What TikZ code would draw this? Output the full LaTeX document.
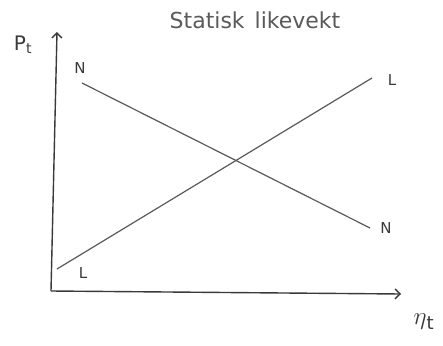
\documentclass[tikz,border=0pt]{standalone}
\usepackage{fontspec}
\setmainfont{DejaVu Sans}
\usetikzlibrary{arrows.meta}
\definecolor{ink}{HTML}{3A3A3A}
\definecolor{pen}{HTML}{5A5A5A}
\tikzset{
  axis/.style={draw=ink, line width=1.4pt, -{Straight Barb[length=5pt,width=10pt]}},
  curve/.style={draw=pen, line width=1.2pt},
  lab/.style={text=ink, font=\fontsize{15}{15}\selectfont, inner sep=0pt},
}
\begin{document}
\begin{tikzpicture}[x=1pt,y=-1pt]
\useasboundingbox[fill=white] (0,0) rectangle (443,345);
\coordinate (O) at (51,291);
\coordinate (ytop) at (57,32);
\coordinate (xend) at (401,294);
\draw[axis] (O) -- (ytop);
\draw[axis] (O) -- (xend);
\coordinate (N1) at (82,83);
\coordinate (N2) at (370,228);
\coordinate (L1) at (57,269);
\coordinate (L2) at (372,78);
\draw[curve] (N1) -- (N2);
\draw[curve] (L1) -- (L2);
\node[lab] (nA) at (80,68) {N};
\node[lab] (nB) at (386,228) {N};
\node[lab] (lA) at (392,80) {L};
\node[lab] (lB) at (83,273) {L};
\node[lab, font=\fontsize{20}{20}\selectfont] (p) at (23,45) {P\textsubscript{t}};
\node[lab, font=\fontsize{26}{26}\selectfont] (q) at (424,322) {$\eta$\textsubscript{t}};
\node[lab, text=pen, font=\fontsize{22}{22}\selectfont] (title) at (255,20) {Statisk\hspace{10pt}likevekt};
\end{tikzpicture}
\end{document}
